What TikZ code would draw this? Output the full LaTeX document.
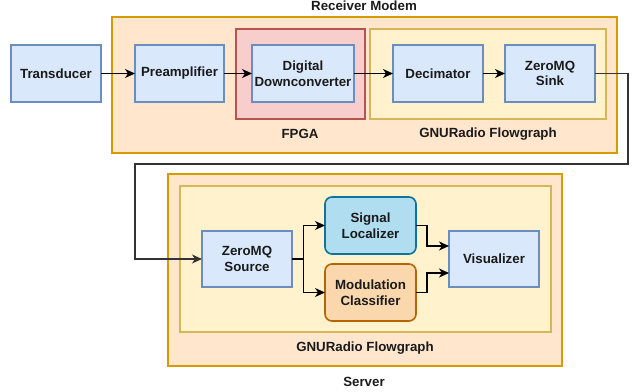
\documentclass[tikz,border=0pt]{standalone}
\usepackage{fontspec}
\setmainfont{Liberation Sans}
\usetikzlibrary{arrows.meta,positioning}
\definecolor{bluefill}{HTML}{DAE8FC}
\definecolor{bluedraw}{HTML}{6C8EBF}
\definecolor{orfill}{HTML}{FFE6CC}
\definecolor{ordraw}{HTML}{D79B00}
\definecolor{redfill}{HTML}{F8CECC}
\definecolor{reddraw}{HTML}{B85450}
\definecolor{yelfill}{HTML}{FFF2CC}
\definecolor{yeldraw}{HTML}{D6B656}
\definecolor{cyanfill}{HTML}{B1DDF0}
\definecolor{cyandraw}{HTML}{10739E}
\definecolor{peachfill}{HTML}{FAD7AC}
\definecolor{peachdraw}{HTML}{B46504}
\definecolor{txt}{HTML}{1A1A1A}
\begin{document}
\begin{tikzpicture}[x=1pt,y=-1pt,
  font=\fontsize{13.3}{15.5}\selectfont\bfseries,
  every node/.style={inner sep=0pt,outer sep=0pt,text=txt,align=center},
  box/.style={draw=bluedraw,fill=bluefill,line width=1.6pt,minimum width=90pt,minimum height=57pt},
  rbox/.style={box,rounded corners=7pt},
  cont/.style={line width=1.6pt},
  lab/.style={},
  arr/.style={line width=1.1pt,draw=black,-{Stealth[length=10pt,width=9pt,inset=3pt]}}
]
\useasboundingbox (0,0) rectangle (632,391);
% containers
\node[cont,draw=ordraw,fill=orfill,minimum width=505pt,minimum height=136pt] (modem) at (364.5,85) {};
\node[cont,draw=reddraw,fill=redfill,minimum width=129pt,minimum height=90pt] (fpga) at (300.5,74) {};
\node[cont,draw=yeldraw,fill=yelfill,minimum width=236pt,minimum height=90pt] (gnua) at (488,74) {};
\node[cont,draw=ordraw,fill=orfill,minimum width=394pt,minimum height=192pt] (server) at (365,270) {};
\node[cont,draw=yeldraw,fill=yelfill,minimum width=371pt,minimum height=146pt] (gnub) at (365.5,259) {};
% labels
\node[lab] (lmodem) at (364,6) {Receiver Modem};
\node[lab] (lfpga) at (300,134) {FPGA};
\node[lab] (lgnua) at (488,134) {GNURadio Flowgraph};
\node[lab] (lgnub) at (365,348) {GNURadio Flowgraph};
\node[lab] (lserver) at (364,382) {Server};
% blocks
\node[box] (trans) at (56,73.5) {Transducer};
\node[box,minimum width=89pt] (pre) at (179.5,73.5) {Preamplifier};
\node[box,minimum width=102pt] (ddc) at (303,73.5) {Digital\\Downconverter};
\node[box] (dec) at (438,73.5) {Decimator};
\node[box] (sink) at (550,73.5) {ZeroMQ\\Sink};
\node[box,minimum height=56pt] (src) at (247,259) {ZeroMQ\\Source};
\node[rbox,draw=cyandraw,fill=cyanfill,minimum width=91pt] (loc) at (370.5,225.5) {Signal\\Localizer};
\node[rbox,draw=peachdraw,fill=peachfill,minimum width=91pt] (cls) at (370.5,292.5) {Modulation\\Classifier};
\node[box,minimum height=56pt] (vis) at (494,259) {Visualizer};
% connectors
\draw[arr] (trans) -- (pre);
\draw[arr] (pre) -- (ddc);
\draw[arr] (ddc) -- (dec);
\draw[arr] (dec) -- (sink);
\coordinate (f1) at (628,164);
\coordinate (f2) at (135,164);
\draw[arr,draw=black!80] (sink.east) -| (f1) -- (f2) |- (src.west);
\coordinate (sp) at (303.5,259);
\draw[arr] (src.east) -- (sp) |- (loc.west);
\draw[arr] (sp) |- (cls.west);
\coordinate (v1) at (449,246);
\coordinate (v2) at (449,273);
\draw[arr] (loc.east) -- ++(11,0) |- (v1);
\draw[arr] (cls.east) -- ++(11,0) |- (v2);
\end{tikzpicture}
\end{document}
